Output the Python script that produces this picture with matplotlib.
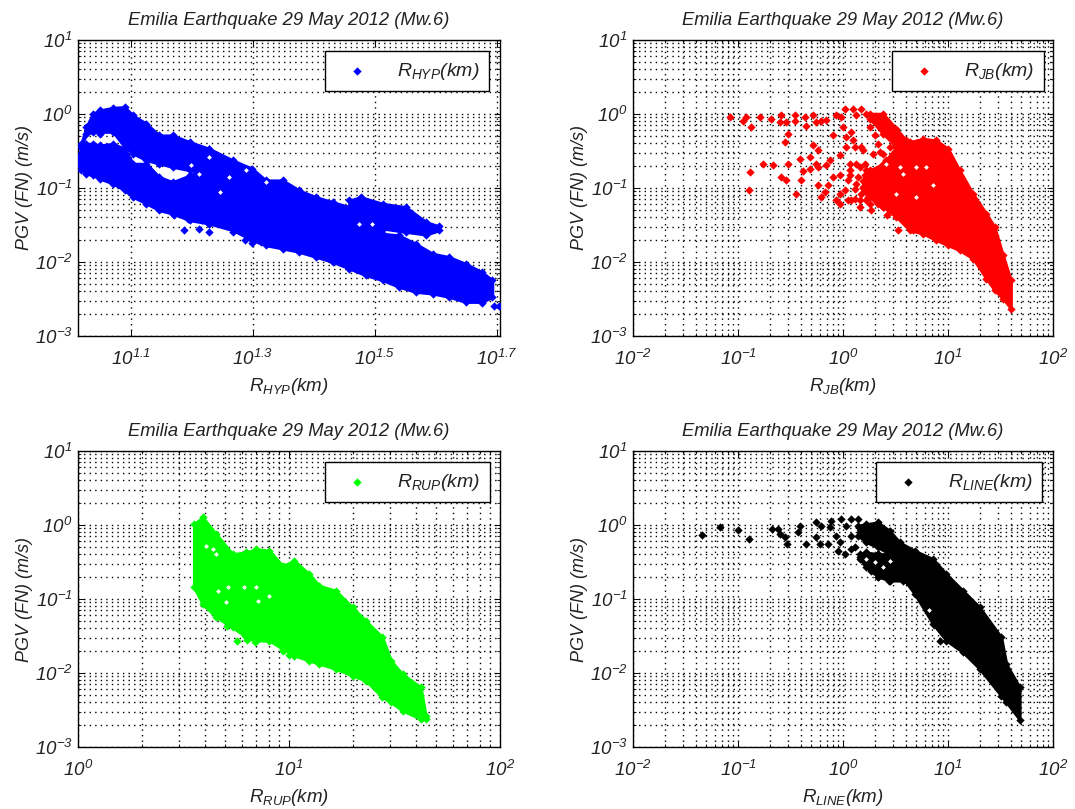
import numpy as np
import matplotlib
matplotlib.use('Agg')
import matplotlib.pyplot as plt
from matplotlib.ticker import LogLocator, NullFormatter, FixedLocator, FixedFormatter

# all values, as log10(R km) and log10(PGV m/s)

# R_HYP
hyp_x_a = [1.018,1.026,1.037,1.048,1.070,1.089,1.103,1.125,1.146,1.168,1.196,1.228]
hyp_hi_a = [-.401,-.176,.005,.05,.086,.095,-.018,-.131,-.288,-.288,-.378,-.468]
hyp_lo_a = [-.446,-.266,-.243,-.243,-.243,-.446,-.536,-.626,-.671,-.716,-.761,-.806]
hyp_x_b = [1.013,1.018,1.026,1.037,1.048,1.070,1.089,1.103,1.125,1.146,1.168,1.196,1.228]
hyp_hi_b = [-.581,-.446,-.401,-.401,-.423,-.401,-.468,-.671,-.671,-.851,-.919,-.829,-.716]
hyp_lo_b = [-.671,-.761,-.806,-.829,-.874,-.941,-1.032,-1.122,-1.212,-1.302,-1.347,-1.437,-1.482]
hyp_x_c = [1.228,1.267,1.299,1.321,1.349,1.376,1.403,1.431,1.458,1.485,1.513,1.540,1.567,1.595,1.622,1.649,1.676,1.693]
hyp_hi_c = [-.468,-.626,-.739,-.896,-.896,-1.032,-1.122,-1.189,-1.257,-1.437,-1.617,-1.640,-1.752,-1.887,-1.932,-2.023,-2.135,-2.248]
hyp_lo_c = [-1.482,-1.572,-1.707,-1.775,-1.820,-1.865,-1.932,-2.0,-2.09,-2.18,-2.248,-2.338,-2.405,-2.428,-2.473,-2.541,-2.541,-2.473]
hyp_x_d = [1.458,1.477,1.513,1.551,1.584,1.606]
hyp_hi_d = [-1.167,-1.122,-1.212,-1.257,-1.459,-1.518]
hyp_lo_d = [-1.527,-1.527,-1.550,-1.595,-1.631,-1.572]
hyp_pts_x = [1.171,1.187,1.193,1.212,1.217,1.228,1.245,1.267,1.286,1.299,1.313,1.696,1.704,1.676,
             1.058,1.073,1.092,1.089,1.103,1.075,1.048]
hyp_pts_y = [-1.369,-1.572,-1.414,-1.55,-1.437,-1.595,-1.437,-1.595,-1.707,-1.743,-1.73,-2.599,-2.599,-2.554,
             -.446,-.536,-.536,-.401,-.401,-.581,-.266]
hyp_gap_x = [1.245,1.198,1.212,1.228,1.261,1.289,1.321,1.474,1.496]
hyp_gap_y = [-1.054,-.694,-.806,-.581,-.851,-.761,-.919,-1.482,-1.482]

# R_JB
jb_x_a = [.190,.222,.254,.381,.508,.635,.762,.889,1.0,1.111,1.238,1.365,1.444,1.524,1.60]
jb_hi_a = [-.90,-.85,-.761,-.671,-.446,-.378,-.333,-.356,-.468,-.761,-1.077,-1.347,-1.527,-1.91,-2.25]
jb_lo_a = [-1.00,-1.05,-1.122,-1.257,-1.392,-1.572,-1.617,-1.707,-1.775,-1.842,-1.955,-2.225,-2.383,-2.495,-2.631]
jb_x_b = [.254,.381,.508,.603,.698]
jb_hi_b = [.005,.005,-.198,-.356,-.401]
jb_lo_b = [-.063,-.266,-.446,-.581,-.626]
jb_pts_x = [-1.079,-.952,-.921,-.873,-.794,-.683,-.587,-.603,-.54,-.46,-.46,-.365,-.349,-.286,-.254,-.206,-.159,
            -.063,-.095,-.016,0,.032,.079,.095,.016,.095,.175,.127,.222,.254,.302,-.524,-.556,-.286,-.238,-.032,
            -.762,-.667,-.524,-.889,-.587,-.54,-.397,-.381,-.413,-.317,-.254,-.238,-.317,-.127,-.159,-.095,-.032,
            -.238,-.143,-.175,-.206,-.444,-.898,-.063,-.032,.048,.111,.159,.524,.667,.571,.419,.063,.127,.206,
            .048,.127,.19,.238,.254,.302,.333,.302,.175,.19,.016,-.032,.032,.111,.286,.349,.413,
            .063,.159,.222,.063,.143,.206,.254,.111,.175,.222,.349,.381,.333,.27,.381,.159,.079,.317,.381,.444,
            .333,.381,.444,.508,.571]
jb_pts_y = [-.041,-.095,-.041,-.176,-.041,-.063,-.018,-.108,-.108,-.018,-.095,-.041,-.167,-.018,-.108,-.095,-.086,
            -.018,-.288,-.041,-.176,-.311,-.243,-.356,.072,.072,.072,-.018,.005,-.176,-.288,-.266,-.378,-.423,-.491,-.559,
            -.671,-.694,-.68,-.784,-.851,-.896,-.896,-.77,-.604,-.581,-.671,-.716,-.739,-.626,-.694,-.851,-.829,
            -.964,-.964,-1.054,-1.122,-1.086,-1.032,-1.167,-1.221,-1.158,-1.144,-1.257,-1.572,-1.572,-1.392,-1.369,-.761,-.671,-.671,
            -.896,-.941,-.986,-1.122,-1.212,-1.167,-1.032,-.986,-.446,-.491,-1.032,-1.077,-.446,-.446,-.536,-.514,-.626,
            -.671,-.716,-.761,-.829,-.851,-.829,-.896,-1.009,-1.077,-1.167,-1.122,-.986,-1.212,-1.302,-1.257,-1.167,-1.167,-.806,-.761,-.851,
            -.401,-.536,-.446,-.581,-.446]
jb_gap_x = [.413,.54,.698,.857,.794,.508,.698,.571]
jb_gap_y = [-.671,-.716,-.716,-.964,-.716,-1.077,-1.122,-.806]

# R_RUP
rup_x = [.549,.591,.655,.733,.797,.844,.907,.970,1.025,1.096,1.144,1.222,1.301,1.364,1.443,1.483,1.538,1.625,1.648]
rup_hi = [.014,.104,-.122,-.392,-.369,-.324,-.347,-.55,-.482,-.662,-.82,-.887,-1.113,-1.293,-1.518,-1.833,-2.014,-2.194,-2.577]
rup_lo = [-.842,-1.068,-1.248,-1.383,-1.518,-1.563,-1.563,-1.676,-1.766,-1.833,-1.878,-1.946,-2.036,-2.104,-2.329,-2.396,-2.509,-2.622,-2.622]
rup_pts_x = [.707,.752,.801,.841,.749,.97,.998,1.633]
rup_pts_y = [-1.36,-1.572,-1.554,-1.586,-1.374,-1.707,-1.752,-2.599]
rup_gap_x = [.607,.655,.639,.71,.662,.789,.844,.702,.907,.852]
rup_gap_y = [-.279,-.392,-.324,-.842,-.887,-.842,-.842,-1.045,-.955,-1.023]

# R_LINE
line_x = [.143,.222,.333,.444,.54,.683,.857,.984,1.143,1.302,1.508,1.556,1.683]
line_hi = [-.009,.014,.036,-.077,-.234,-.347,-.459,-.662,-.887,-1.113,-1.518,-1.878,-2.194]
line_lo = [-.144,-.234,-.302,-.392,-.662,-.932,-1.338,-1.563,-1.721,-1.946,-2.311,-2.396,-2.631]
line_x_b = [.159,.222,.333,.444,.571]
line_hi_b = [-.392,-.37,-.392,-.392,-.392]
line_lo_b = [-.459,-.572,-.698,-.752,-.752]
line_pts_x = [-1.346,-1.168,-.997,-.898,-.673,-.619,-.603,-.556,-.533,-.413,-.429,-.349,-.26,-.254,-.222,-.143,-.206,
              -.127,-.111,-.063,-.016,-.032,.032,.079,.143,.079,-.048,.016,.079,.111,.921,
              .159,.222,.27,.333,.438,.54,.413,.508,.302,.381,.46,.603,.571,.381,.444,.19,.254,.333]
line_pts_y = [-.14,-.023,-.063,-.194,-.05,-.054,-.122,-.167,-.257,-.009,-.099,-.257,.036,-.167,-.257,-.257,-.009,
              -.032,.059,-.144,.081,-.234,-.009,.081,.081,-.144,-.347,-.392,-.324,-.293,-1.563,
              -.437,-.527,-.617,-.698,-.752,-.662,-.617,-.482,-.505,-.572,-.662,-.707,-.572,-.437,-.347,-.459,-.482,-.392]
line_gap_x = [.816,.444,.381,.302,.222]
line_gap_y = [-1.144,-.482,-.572,-.505,-.459]

plt.rcParams['font.family'] = ['Liberation Sans', 'DejaVu Sans']
plt.rcParams['font.style'] = 'italic'
plt.rcParams['mathtext.fontset'] = 'custom'
plt.rcParams['mathtext.rm'] = 'Liberation Sans:italic'
plt.rcParams['mathtext.it'] = 'Liberation Sans:italic'
plt.rcParams['mathtext.default'] = 'it'
plt.rcParams['text.color'] = '#222222'
plt.rcParams['axes.labelcolor'] = '#222222'
plt.rcParams['xtick.labelcolor'] = '#222222'
plt.rcParams['ytick.labelcolor'] = '#222222'

W, H = 1075, 809
fig = plt.figure(figsize=(W / 100, H / 100), dpi=100, facecolor='white')


def panel(box, name, color, bands, pts_x, pts_y, gap_x, gap_y, xlim, leg_left):
    left, top, right, bottom = box
    ax = fig.add_axes([left / W, 1 - bottom / H, (right - left) / W, (bottom - top) / H])
    ax.set_xscale('log')
    ax.set_yscale('log')
    ax.set_xlim(xlim)
    ax.set_ylim(1e-3, 10)

    for bx, hi, lo in bands:
        bx, hi, lo = np.array(bx), np.array(hi), np.array(lo)
        ax.fill_between(10**bx, 10**lo, 10**hi, color=color, lw=2, zorder=3)
        ax.scatter(10**bx, 10**hi, marker='D', s=18, color=color, lw=0, zorder=3)
        ax.scatter(10**bx, 10**lo, marker='D', s=18, color=color, lw=0, zorder=3)
    ax.scatter(10**np.array(gap_x), 10**np.array(gap_y), marker='D', s=6, color='white', lw=0, zorder=3.5)
    ax.scatter(10**np.array(pts_x), 10**np.array(pts_y), marker='D', s=18, color=color, lw=0, zorder=3,
               label='$R_{%s}$(km)' % name)

    ax.yaxis.set_major_locator(LogLocator(base=10, numticks=10))
    ax.yaxis.set_minor_locator(LogLocator(base=10, subs=range(2, 10), numticks=10))
    ax.yaxis.set_minor_formatter(NullFormatter())
    ax.set_axisbelow(True)
    ax.grid(True, which='both', axis='both', color='black', lw=1.0, ls=(0, (1, 3)))
    ax.tick_params(which='major', direction='in', top=True, right=True, length=4, width=0.7, labelsize=13.5)
    ax.tick_params(which='minor', direction='in', top=True, right=True, length=2, width=0.6)
    ax.tick_params(axis='x', pad=9)
    ax.tick_params(axis='y', pad=4)
    for s in ax.spines.values():
        s.set_linewidth(1.0)

    ax.set_title('Emilia Earthquake 29 May 2012 (Mw.6)', fontsize=13.2, pad=11, style='italic')
    ax.set_xlabel('$R_{%s}$(km)' % name, fontsize=13.5, labelpad=5)
    ax.set_ylabel('PGV (FN) (m/s)', fontsize=13, labelpad=1)

    # legend box pinned the same distance under the top edge on every panel
    leg = ax.legend(loc='upper left', bbox_to_anchor=((leg_left - left) / (right - left), 1 - 11 / (bottom - top)),
                    fontsize=14, scatterpoints=1, fancybox=False, framealpha=1, edgecolor='black',
                    handlelength=2.3, handletextpad=0.9, borderpad=0.5, borderaxespad=0)
    leg.get_frame().set_linewidth(1.0)
    leg.set_zorder(5)
    return ax


hyp_bands = [(hyp_x_a, hyp_hi_a, hyp_lo_a), (hyp_x_b, hyp_hi_b, hyp_lo_b),
             (hyp_x_c, hyp_hi_c, hyp_lo_c), (hyp_x_d, hyp_hi_d, hyp_lo_d)]
ax1 = panel((78, 40, 500, 336), 'HYP', '#0000ff', hyp_bands, hyp_pts_x, hyp_pts_y, hyp_gap_x, hyp_gap_y,
            (10**1.0126, 10**1.7055), 325)
ax1.xaxis.set_major_locator(FixedLocator([10**1.1, 10**1.3, 10**1.5, 10**1.7]))
ax1.xaxis.set_major_formatter(FixedFormatter(['$10^{1.1}$', '$10^{1.3}$', '$10^{1.5}$', '$10^{1.7}$']))
ax1.xaxis.set_minor_locator(FixedLocator([]))

jb_bands = [(jb_x_a, jb_hi_a, jb_lo_a), (jb_x_b, jb_hi_b, jb_lo_b)]
ax2 = panel((633, 40, 1053, 336), 'JB', '#ff0000', jb_bands, jb_pts_x, jb_pts_y, jb_gap_x, jb_gap_y,
            (1e-2, 1e2), 892)

ax3 = panel((78, 451, 500, 747), 'RUP', '#00ff00', [(rup_x, rup_hi, rup_lo)], rup_pts_x, rup_pts_y,
            rup_gap_x, rup_gap_y, (1, 1e2), 325)

line_bands = [(line_x, line_hi, line_lo), (line_x_b, line_hi_b, line_lo_b)]
ax4 = panel((633, 451, 1053, 747), 'LINE', '#000000', line_bands, line_pts_x, line_pts_y,
            line_gap_x, line_gap_y, (1e-2, 1e2), 876)

for ax in (ax2, ax3, ax4):
    ax.xaxis.set_major_locator(LogLocator(base=10, numticks=10))
    ax.xaxis.set_minor_locator(LogLocator(base=10, subs=range(2, 10), numticks=10))
    ax.xaxis.set_minor_formatter(NullFormatter())

fig.savefig('out.png', dpi=100)
